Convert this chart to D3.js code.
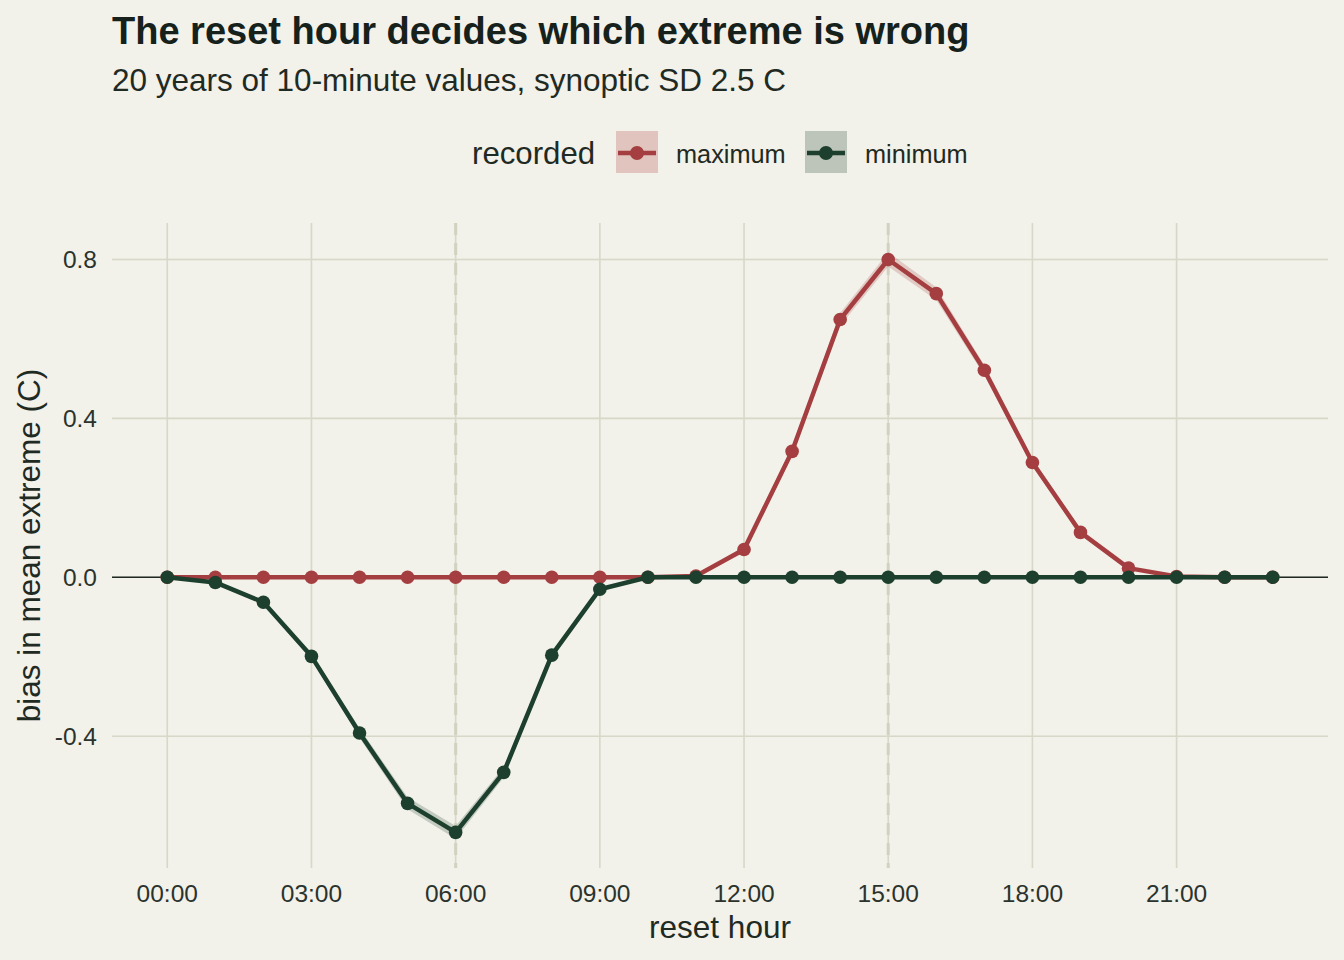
<!DOCTYPE html>
<html>
<head>
<meta charset="utf-8">
<script src="https://cdn.jsdelivr.net/npm/d3@7"></script>
<style>
  body { margin: 0; background: #f2f1ea; }
  text { font-family: "Liberation Sans", Arial, sans-serif; }
</style>
</head>
<body>
<div id="chart"></div>
<script>
// reset hour 0..23
const hours = d3.range(0, 24);
const tickHours = [0, 3, 6, 9, 12, 15, 18, 21];
const tickLabels = ["00:00", "03:00", "06:00", "09:00", "12:00", "15:00", "18:00", "21:00"];
const yTicks = [-0.4, 0, 0.4, 0.8];

// bias in mean extreme (C)
const maxBias = [0, 0, 0, 0, 0, 0, 0, 0, 0, 0, 0, 0.003, 0.070, 0.317, 0.649, 0.800, 0.714, 0.521, 0.289, 0.113, 0.023, 0.002, 0, 0];
const minBias = [0, -0.013, -0.063, -0.199, -0.392, -0.569, -0.642, -0.491, -0.196, -0.030, 0, 0, 0, 0, 0, 0, 0, 0, 0, 0, 0, 0, 0, 0];
// half-width of the shaded band
const maxBand = [0, 0, 0, 0, 0, 0, 0, 0, 0, 0, 0, 0.002, 0.008, 0.012, 0.016, 0.018, 0.016, 0.013, 0.01, 0.006, 0.003, 0.001, 0, 0];
const minBand = [0, 0.002, 0.005, 0.008, 0.012, 0.015, 0.016, 0.013, 0.008, 0.004, 0, 0, 0, 0, 0, 0, 0, 0, 0, 0, 0, 0, 0, 0];

const markHours = [6, 15];

const series = [
  { name: "maximum", values: maxBias, band: maxBand, color: "#a43e40", fill: "#e0c4bd" },
  { name: "minimum", values: minBias, band: minBand, color: "#1d3f2d", fill: "#bdc5ba" }
];

const width = 1344, height = 960;
const panel = { left: 112, right: 1328, top: 223, bottom: 868 };

const svg = d3.select("#chart").append("svg")
  .attr("width", width)
  .attr("height", height);

svg.append("rect").attr("width", width).attr("height", height).attr("fill", "#f2f1ea");

// scales, ggplot style 5% expansion
const xExt = d3.extent(hours);
const xPad = (xExt[1] - xExt[0]) * 0.05;
const x = d3.scaleLinear().domain([xExt[0] - xPad, xExt[1] + xPad]).range([panel.left, panel.right]);

let lo = d3.min(series, s => d3.min(s.values, (v, i) => v - s.band[i]));
let hi = d3.max(series, s => d3.max(s.values, (v, i) => v + s.band[i]));
const yPad = (hi - lo) * 0.05;
const y = d3.scaleLinear().domain([lo - yPad, hi + yPad]).range([panel.bottom, panel.top]);

// gridlines
const grid = svg.append("g");
grid.selectAll(".hg").data(yTicks).enter().append("line")
  .attr("x1", panel.left).attr("x2", panel.right)
  .attr("y1", d => y(d)).attr("y2", d => y(d))
  .attr("stroke", "#d7d8c8").attr("stroke-width", 1.6);
grid.selectAll(".vg").data(tickHours).enter().append("line")
  .attr("x1", d => x(d)).attr("x2", d => x(d))
  .attr("y1", panel.top).attr("y2", panel.bottom)
  .attr("stroke", "#d7d8c8").attr("stroke-width", 1.6);

// reset-hour markers
svg.selectAll(".mark").data(markHours).enter().append("line")
  .attr("x1", d => x(d)).attr("x2", d => x(d))
  .attr("y1", panel.top).attr("y2", panel.bottom)
  .attr("stroke", "#d2d2c0").attr("stroke-width", 3)
  .attr("stroke-dasharray", "12,8");

// zero line
svg.append("line")
  .attr("x1", panel.left).attr("x2", panel.right)
  .attr("y1", y(0)).attr("y2", y(0))
  .attr("stroke", "#1f2a22").attr("stroke-width", 1.6);

const area = d3.area()
  .x((d, i) => x(hours[i]))
  .y0(d => y(d[0] - d[1]))
  .y1(d => y(d[0] + d[1]));
const line = d3.line().x((d, i) => x(hours[i])).y(d => y(d));

series.forEach(s => {
  const g = svg.append("g");
  g.append("path")
    .datum(s.values.map((v, i) => [v, s.band[i]]))
    .attr("d", area)
    .attr("fill", s.color).attr("fill-opacity", 0.22);
  g.append("path")
    .datum(s.values)
    .attr("d", line)
    .attr("fill", "none")
    .attr("stroke", s.color).attr("stroke-width", 4.5)
    .attr("stroke-linejoin", "round");
  g.selectAll("circle").data(s.values).enter().append("circle")
    .attr("cx", (d, i) => x(hours[i]))
    .attr("cy", d => y(d))
    .attr("r", 6.8)
    .attr("fill", s.color);
});

// axes labels
const textColor = "#1f2a22";
svg.selectAll(".yt").data(yTicks).enter().append("text")
  .attr("x", 97).attr("y", d => y(d)).attr("dy", "0.35em")
  .attr("text-anchor", "end")
  .attr("font-size", 24.5).attr("fill", "#2b332d")
  .text(d => d3.format(".1f")(d).replace("−", "-"));

svg.selectAll(".xt").data(tickHours).enter().append("text")
  .attr("x", d => x(d)).attr("y", 902)
  .attr("text-anchor", "middle")
  .attr("font-size", 24.5).attr("fill", "#2b332d")
  .text((d, i) => tickLabels[i]);

svg.append("text")
  .attr("x", (panel.left + panel.right) / 2).attr("y", 938)
  .attr("text-anchor", "middle")
  .attr("font-size", 31.5).attr("fill", textColor)
  .text("reset hour");

svg.append("text")
  .attr("transform", `translate(40,${(panel.top + panel.bottom) / 2}) rotate(-90)`)
  .attr("text-anchor", "middle")
  .attr("font-size", 31.5).attr("fill", textColor)
  .text("bias in mean extreme (C)");

// title
svg.append("text")
  .attr("x", 112).attr("y", 44)
  .attr("font-size", 38).attr("font-weight", "bold").attr("fill", "#15211a")
  .text("The reset hour decides which extreme is wrong");
svg.append("text")
  .attr("x", 112).attr("y", 91)
  .attr("font-size", 31.5).attr("fill", textColor)
  .text("20 years of 10-minute values, synoptic SD 2.5 C");

// legend
const leg = svg.append("g");
leg.append("text")
  .attr("x", 472).attr("y", 164)
  .attr("font-size", 31.2).attr("fill", textColor)
  .text("recorded");
const keyX = [616, 805];
const labelX = [676, 865];
series.forEach((s, i) => {
  const kx = keyX[i];
  leg.append("rect")
    .attr("x", kx).attr("y", 131).attr("width", 42).attr("height", 42)
    .attr("fill", s.fill);
  leg.append("line")
    .attr("x1", kx + 2).attr("x2", kx + 40)
    .attr("y1", 153).attr("y2", 153)
    .attr("stroke", s.color).attr("stroke-width", 4.5);
  leg.append("circle")
    .attr("cx", kx + 21).attr("cy", 153).attr("r", 7)
    .attr("fill", s.color);
  leg.append("text")
    .attr("x", labelX[i]).attr("y", 162.5)
    .attr("font-size", 25.3).attr("fill", textColor)
    .text(s.name);
});
</script>
</body>
</html>
